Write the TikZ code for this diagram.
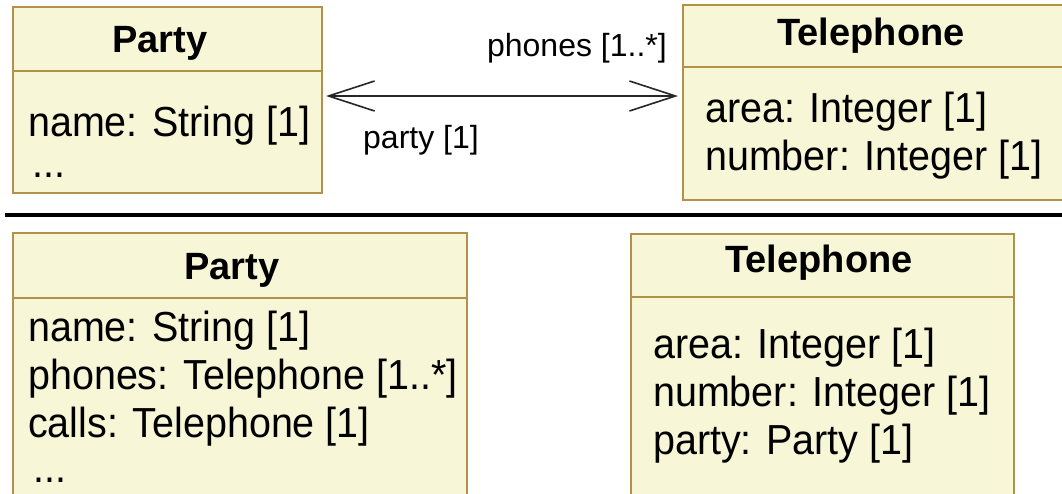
\documentclass[tikz,border=0pt]{standalone}
\usepackage{fontspec}
\setmainfont{Liberation Sans}
\newfontfamily\bodyfont[FakeStretch=0.94]{Liberation Sans}
\newfontfamily\rolefont{Liberation Sans}
\newfontfamily\headfont{Liberation Sans}
\usetikzlibrary{arrows.meta}
\definecolor{umlfill}{RGB}{247,246,214}
\definecolor{umlborder}{RGB}{178,145,75}
\tikzset{
  umlbox/.style={draw=umlborder, fill=umlfill, line width=2pt, inner sep=0pt, rectangle},
  divider/.style={draw=umlborder, line width=2pt},
  classname/.style={anchor=base, inner sep=0pt, font=\headfont\bfseries\fontsize{38}{44}\selectfont},
  attr/.style={anchor=base west, inner sep=0pt, font=\bodyfont\fontsize{42}{48}\selectfont},
  role/.style={inner sep=0pt, font=\rolefont\fontsize{32}{38}\selectfont},
  assoc/.style={line width=2pt, draw=black!85,
    {Straight Barb[length=46pt,width=30pt,line width=1.6pt]}-{Straight Barb[length=46pt,width=30pt,line width=1.6pt]}},
  rule/.style={line width=4.5pt, draw=black}
}
\begin{document}
\begin{tikzpicture}[x=1pt,y=-1pt]
\useasboundingbox (0,0) rectangle (1062,493);
\clip (0,0) rectangle (1062,493);

% ---- association model ----
\node[umlbox, minimum width=309pt, minimum height=186pt] (partyA) at (167.5,100) {};
\draw[divider] (partyA.west |- 0,71) -- (partyA.east |- 0,71);
\node[classname] (partyAname) at (160,52) {Party};
\node[attr] (partyAname1) at (28,136) {name: String [1]};
\node[attr] (partyAmore) at (32,177) {...};

\node[umlbox, minimum width=392pt, minimum height=195pt] (phoneA) at (879,102.5) {};
\draw[divider] (phoneA.west |- 0,67) -- (phoneA.east |- 0,67);
\node[classname] (phoneAname) at (871,45) {Telephone};
\node[attr] (phoneAarea) at (705,122) {area: Integer [1]};
\node[attr] (phoneAnumber) at (705,170) {number: Integer [1]};

\coordinate (assocL) at (partyA.east |- 0,96);
\coordinate (assocR) at (phoneA.west |- 0,96);
\draw[assoc, shorten <=3pt, shorten >=4pt] (assocL) -- (assocR);
\node[role, anchor=base east] (rolePhones) at (667,56) {phones [1..*]};
\node[role, anchor=base west] (roleParty) at (363,148) {party [1]};

% ---- separator ----
\draw[rule] (5,215) -- (1062,215);

% ---- attribute model ----
\node[umlbox, minimum width=454pt, minimum height=287pt] (partyB) at (240,376.5) {};
\draw[divider] (partyB.west |- 0,298) -- (partyB.east |- 0,298);
\node[classname] (partyBname) at (232,279) {Party};
\node[attr] (partyBname1) at (28,341) {name: String [1]};
\node[attr] (partyBphones) at (28,389) {phones: Telephone [1..*]};
\node[attr] (partyBcalls) at (28,437) {calls: Telephone [1]};
\node[attr] (partyBmore) at (33,482) {...};

\node[umlbox, minimum width=383pt, minimum height=286pt] (phoneB) at (822.5,377) {};
\draw[divider] (phoneB.west |- 0,297) -- (phoneB.east |- 0,297);
\node[classname] (phoneBname) at (819,272) {Telephone};
\node[attr] (phoneBarea) at (653,358) {area: Integer [1]};
\node[attr] (phoneBnumber) at (653,406) {number: Integer [1]};
\node[attr] (phoneBparty) at (653,454) {party: Party [1]};
\end{tikzpicture}
\end{document}
